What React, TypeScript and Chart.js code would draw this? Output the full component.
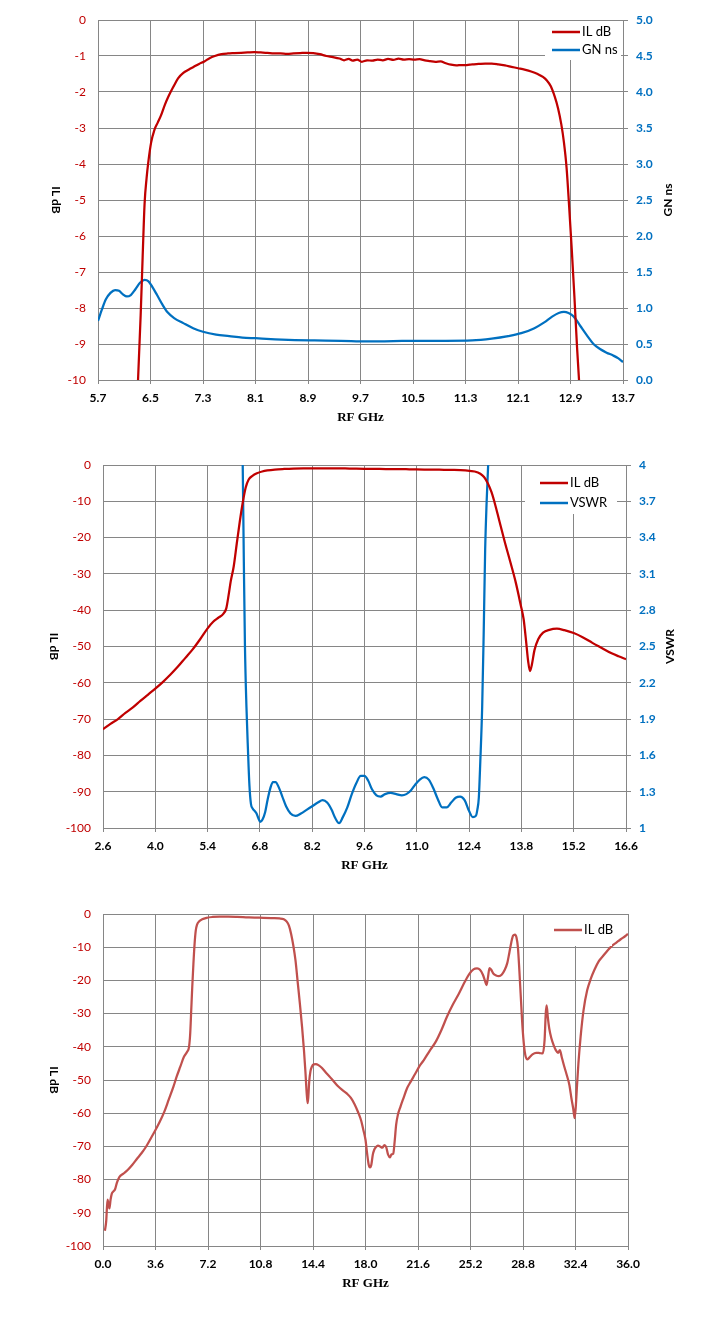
import { useEffect, useRef } from "react"
import { Chart, registerables } from "chart.js"

Chart.register(...registerables)

const RED = "#c00000"
const BLUE = "#0070c0"
const SOFT_RED = "#c0504d"
const GRID = "#868686"

// ---- chart 1: IL dB + group delay (GN ns), 5.7 .. 13.7 GHz
const xTicks1 = [5.7, 6.5, 7.3, 8.1, 8.9, 9.7, 10.5, 11.3, 12.1, 12.9, 13.7]
const ilTicks1 = [-10, -9, -8, -7, -6, -5, -4, -3, -2, -1, 0]
const gnTicks1 = [0, 0.5, 1, 1.5, 2, 2.5, 3, 3.5, 4, 4.5, 5]

const ilFreq1 = [
  6.27, 6.31, 6.35, 6.38, 6.41, 6.44, 6.47, 6.51, 6.56, 6.61, 6.66, 6.72, 6.78, 6.85, 6.92, 7.0, 7.08, 7.16,
  7.24, 7.32, 7.4, 7.48, 7.58, 7.68, 7.78, 7.88, 7.98, 8.08, 8.18, 8.28, 8.38, 8.48, 8.58, 8.68, 8.78, 8.88,
  8.98, 9.08, 9.18, 9.28, 9.38, 9.45, 9.52, 9.58, 9.65, 9.72, 9.8, 9.88, 9.96, 10.04, 10.12, 10.2, 10.28,
  10.36, 10.44, 10.52, 10.6, 10.68, 10.76, 10.84, 10.92, 11.0, 11.08, 11.16, 11.24, 11.32, 11.4, 11.5, 11.6,
  11.7, 11.8, 11.9, 12.0, 12.1, 12.2, 12.3, 12.4, 12.48, 12.54, 12.6, 12.66, 12.71, 12.76, 12.8, 12.84, 12.88,
  12.92, 12.96, 13.0, 13.04, 13.07,
]
const ilValues1 = [
  -11.5, -10.0, -8.2, -6.6, -5.1, -4.4, -3.9, -3.4, -3.05, -2.85, -2.65, -2.35, -2.1, -1.85, -1.62, -1.47,
  -1.38, -1.3, -1.22, -1.15, -1.06, -1.0, -0.95, -0.93, -0.92, -0.91, -0.9, -0.89, -0.9, -0.91, -0.93, -0.93,
  -0.94, -0.93, -0.92, -0.91, -0.92, -0.95, -1.0, -1.03, -1.07, -1.12, -1.08, -1.13, -1.1, -1.16, -1.12, -1.13,
  -1.1, -1.12, -1.08, -1.11, -1.07, -1.1, -1.09, -1.1, -1.09, -1.12, -1.14, -1.16, -1.15, -1.2, -1.24, -1.26,
  -1.25, -1.25, -1.23, -1.22, -1.21, -1.21, -1.23, -1.26, -1.3, -1.34, -1.38, -1.43, -1.5, -1.58, -1.68, -1.84,
  -2.13, -2.45, -2.9, -3.4, -4.1, -5.2, -6.4, -7.7, -9.1, -10.3, -11.2,
]

const gnFreq1 = [
  5.7, 5.76, 5.82, 5.89, 5.96, 6.02, 6.08, 6.14, 6.2, 6.27, 6.34, 6.41, 6.47, 6.53, 6.6, 6.68, 6.76, 6.86, 7.0,
  7.15, 7.3, 7.5, 7.7, 7.9, 8.1, 8.4, 8.7, 9.0, 9.4, 9.8, 10.2, 10.6, 11.0, 11.4, 11.7, 11.95, 12.15, 12.35,
  12.5, 12.62, 12.72, 12.8, 12.87, 12.95, 13.05, 13.15, 13.25, 13.35, 13.45, 13.55, 13.63, 13.7,
]
const gnValues1 = [
  0.82, 0.98, 1.12, 1.21, 1.25, 1.24, 1.19, 1.16, 1.18, 1.26, 1.35, 1.39, 1.37, 1.29, 1.18, 1.05, 0.94, 0.86,
  0.79, 0.72, 0.67, 0.63, 0.61, 0.59, 0.58, 0.565, 0.555, 0.55, 0.545, 0.535, 0.54, 0.545, 0.545, 0.55, 0.575,
  0.61, 0.65, 0.72, 0.8, 0.88, 0.93, 0.945, 0.93, 0.88, 0.75, 0.62, 0.5, 0.43, 0.38, 0.34, 0.3, 0.25,
]

// ---- chart 2: IL dB + VSWR, 2.6 .. 16.6 GHz
const xTicks2 = [2.6, 4.0, 5.4, 6.8, 8.2, 9.6, 11.0, 12.4, 13.8, 15.2, 16.6]
const ilTicks2 = [-100, -90, -80, -70, -60, -50, -40, -30, -20, -10, 0]
const vswrTicks2 = [1, 1.3, 1.6, 1.9, 2.2, 2.5, 2.8, 3.1, 3.4, 3.7, 4]

const ilFreq2 = [
  2.6, 2.8, 3.0, 3.2, 3.4, 3.6, 3.8, 4.0, 4.2, 4.4, 4.6, 4.8, 5.0, 5.2, 5.4, 5.55, 5.7, 5.82, 5.9, 5.96, 6.02,
  6.1, 6.18, 6.26, 6.34, 6.42, 6.5, 6.6, 6.72, 6.86, 7.0, 7.2, 7.45, 7.7, 8.0, 8.4, 8.8, 9.2, 9.6, 10.0, 10.4,
  10.8, 11.2, 11.6, 12.0, 12.3, 12.55, 12.7, 12.8, 12.9, 13.0, 13.1, 13.2, 13.35, 13.5, 13.65, 13.78, 13.86,
  13.93, 13.98, 14.03, 14.08, 14.15, 14.25, 14.38, 14.55, 14.75, 14.95, 15.2, 15.45, 15.7, 15.95, 16.2, 16.4,
  16.6,
]
const ilValues2 = [
  -72.8, -71.3, -70.0, -68.3, -66.8, -65.0, -63.3, -61.6, -59.8, -57.8, -55.6, -53.2, -50.8, -48.0, -45.0,
  -43.2, -42.0, -41.0, -39.5, -36.0, -32.0, -27.9, -21.7, -15.7, -10.4, -6.2, -4.0, -3.0, -2.3, -1.8, -1.5,
  -1.25, -1.1, -1.0, -0.95, -0.92, -0.92, -0.98, -1.05, -1.1, -1.12, -1.18, -1.25, -1.3, -1.35, -1.5, -1.8,
  -2.4, -3.3, -5.0, -7.5, -11.0, -15.0, -21.0, -26.6, -32.4, -38.5, -42.5, -49.0, -54.0, -56.8, -55.0, -51.0,
  -48.0, -46.2, -45.4, -45.1, -45.5, -46.3, -47.5, -49.0, -50.4, -51.8, -52.7, -53.5,
]

const vswrFreq2 = [
  6.3, 6.34, 6.37, 6.4, 6.44, 6.48, 6.52, 6.56, 6.61, 6.66, 6.71, 6.76, 6.81, 6.87, 6.94, 7.01, 7.08, 7.15,
  7.22, 7.3, 7.4, 7.5, 7.62, 7.75, 7.9, 8.05, 8.2, 8.35, 8.48, 8.6, 8.72, 8.82, 8.92, 9.02, 9.14, 9.26, 9.38,
  9.5, 9.6, 9.7, 9.8, 9.92, 10.03, 10.15, 10.3, 10.45, 10.6, 10.72, 10.84, 10.96, 11.08, 11.2, 11.32, 11.44,
  11.56, 11.68, 11.8, 11.92, 12.04, 12.16, 12.28, 12.4, 12.5, 12.58, 12.62, 12.66, 12.7, 12.75, 12.79, 12.83,
  12.87, 12.91, 12.95,
]
const vswrValues2 = [
  4.7, 4.0, 3.2, 2.5, 2.0, 1.65, 1.35, 1.2, 1.16, 1.14, 1.12, 1.08, 1.05, 1.07, 1.13, 1.24, 1.33, 1.38, 1.38,
  1.34, 1.26, 1.18, 1.12, 1.1, 1.12, 1.15, 1.18, 1.21, 1.23, 1.21, 1.15, 1.08, 1.04, 1.09, 1.17, 1.28, 1.37,
  1.43, 1.43, 1.39, 1.32, 1.27, 1.26, 1.28, 1.29, 1.28, 1.27, 1.28, 1.31, 1.36, 1.4, 1.42, 1.4, 1.33, 1.24,
  1.17, 1.17, 1.21, 1.25, 1.26, 1.23, 1.14, 1.09, 1.1, 1.15, 1.25, 1.55, 2.0, 2.6, 3.3, 3.7, 4.0, 4.4,
]

// ---- chart 3: wideband IL dB, 0 .. 36 GHz
const xTicks3 = [0, 3.6, 7.2, 10.8, 14.4, 18.0, 21.6, 25.2, 28.8, 32.4, 36.0]
const ilTicks3 = [-100, -90, -80, -70, -60, -50, -40, -30, -20, -10, 0]

const ilFreq3 = [
  0.13, 0.22, 0.31, 0.38, 0.44, 0.52, 0.6, 0.7, 0.82, 0.95, 1.13, 1.4, 1.69, 2.0, 2.32, 2.65, 2.95, 3.25, 3.58,
  3.9, 4.2, 4.5, 4.83, 5.05, 5.3, 5.55, 5.77, 5.9, 5.98, 6.05, 6.12, 6.2, 6.28, 6.36, 6.45, 6.6, 6.8, 7.1, 7.5,
  8.0, 8.6, 9.2, 9.8, 10.4, 11.0, 11.6, 12.1, 12.4, 12.6, 12.75, 12.9, 13.05, 13.2, 13.35, 13.5, 13.65, 13.78,
  13.88, 13.96, 14.03, 14.08, 14.14, 14.22, 14.32, 14.45, 14.6, 14.8, 15.0, 15.25, 15.5, 15.8, 16.1, 16.4,
  16.75, 17.0, 17.25, 17.5, 17.7, 17.85, 18.0, 18.12, 18.22, 18.31, 18.4, 18.5, 18.6, 18.72, 18.85, 19.0,
  19.15, 19.3, 19.42, 19.55, 19.68, 19.78, 19.9, 20.0, 20.1, 20.22, 20.4, 20.6, 20.85, 21.1, 21.4, 21.7, 22.0,
  22.4, 22.8, 23.2, 23.6, 24.0, 24.4, 24.8, 25.1, 25.4, 25.65, 25.85, 26.05, 26.2, 26.3, 26.4, 26.5, 26.62,
  26.78, 26.95, 27.15, 27.35, 27.55, 27.72, 27.87, 28.0, 28.12, 28.25, 28.35, 28.45, 28.55, 28.65, 28.78,
  28.92, 29.08, 29.25, 29.45, 29.7, 29.95, 30.15, 30.28, 30.36, 30.42, 30.5, 30.6, 30.75, 30.9, 31.05, 31.2,
  31.33, 31.45, 31.6, 31.8, 31.98, 32.12, 32.24, 32.34, 32.42, 32.5, 32.6, 32.75, 32.95, 33.2, 33.45, 33.7,
  34.0, 34.3, 34.6, 34.9, 35.2, 35.5, 35.8, 36.0,
]
const ilValues3 = [
  -95.4, -92.5, -86.0, -87.5, -88.7, -86.0, -84.3, -83.6, -83.0, -81.0, -79.2, -78.2, -77.1, -75.6, -73.8,
  -72.0, -70.1, -67.8, -65.2, -62.5, -59.6, -56.0, -52.0, -49.0, -46.0, -43.0, -41.5, -40.0, -36.0, -29.0,
  -22.0, -15.0, -9.0, -5.0, -3.2, -2.2, -1.6, -1.15, -0.9, -0.8, -0.82, -0.9, -1.0, -1.1, -1.15, -1.25, -1.35,
  -1.6, -2.3, -3.5, -6.0, -9.5, -14.0, -20.5, -27.0, -34.0, -41.0, -47.5, -53.5, -57.0, -55.0, -50.5, -47.5,
  -46.0, -45.3, -45.2, -45.6, -46.3, -47.6, -48.8, -50.3, -51.8, -53.0, -54.2, -55.4, -57.3, -59.8, -62.2,
  -65.0, -68.0, -72.5, -75.5, -76.3, -75.5, -72.5, -71.0, -70.2, -69.8, -70.0, -70.4, -69.6, -70.2, -72.5,
  -73.3, -72.4, -72.2, -68.5, -63.5, -60.5, -58.0, -55.5, -52.5, -50.5, -48.2, -45.8, -44.0, -41.2, -38.6,
  -35.0, -30.8, -27.2, -24.0, -20.5, -18.2, -16.7, -16.4, -16.8, -18.3, -20.2, -21.4, -19.0, -16.3, -16.8,
  -18.0, -18.5, -18.7, -18.2, -16.8, -14.8, -11.5, -8.5, -6.5, -6.2, -7.0, -10.0, -17.0, -25.0, -35.0, -41.5,
  -43.8, -43.2, -42.3, -41.8, -41.9, -42.0, -38.0, -30.0, -27.5, -31.0, -34.5, -37.5, -39.5, -41.0, -41.8,
  -41.0, -43.0, -45.5, -48.5, -51.5, -55.5, -58.5, -61.5, -58.0, -52.0, -45.0, -37.0, -29.0, -23.0, -19.5,
  -16.8, -14.2, -12.6, -11.0, -9.6, -8.6, -7.6, -6.7, -6.0,
]

type Series = {
  label: string
  freq: number[]
  values: number[]
  color: string
  axis: "y" | "y2"
}

type PlotSpec = {
  top: number
  height: number
  left: number
  right: number
  xTicks: number[]
  yTicks: number[]
  y2Ticks?: number[]
  y2Format?: (v: number) => string
  yTitle: string
  yTitleX: number
  y2Title?: string
  y2TitleX?: number
  series: Series[]
  legend: { x: number; y: number; w: number; h: number; lineX: number; rows: number[] }
}

const WIDTH = 718

function Plot({ spec }: { spec: PlotSpec }) {
  const chartRef = useRef<HTMLCanvasElement>(null)

  useEffect(() => {
    if (!chartRef.current) return

    const fixTicks = (values: number[]) => (scale: any) => {
      scale.ticks = values.map((value) => ({ value }))
    }
    const tickFont = { family: "Lato", size: 12 }

    const scales: any = {
      x: {
        type: "linear",
        min: spec.xTicks[0],
        max: spec.xTicks[spec.xTicks.length - 1],
        afterBuildTicks: fixTicks(spec.xTicks),
        afterFit: (s: any) => {
          s.height = 60
        },
        grid: { color: GRID, tickLength: 4 },
        border: { color: GRID },
        ticks: {
          color: "#000",
          font: { ...tickFont, weight: "bold" },
          padding: 7,
          maxRotation: 0,
          autoSkip: false,
          callback: (v: any) => Number(v).toFixed(1),
        },
        title: {
          display: true,
          text: "RF GHz",
          color: "#000",
          font: { family: "Liberation Serif", size: 13, weight: "bold" },
          padding: { top: 0, bottom: 15 },
        },
      },
      y: {
        type: "linear",
        position: "left",
        min: spec.yTicks[0],
        max: spec.yTicks[spec.yTicks.length - 1],
        afterBuildTicks: fixTicks(spec.yTicks),
        afterFit: (s: any) => {
          s.width = spec.left
        },
        grid: { color: GRID, drawTicks: false },
        border: { color: GRID },
        ticks: { color: RED, font: tickFont, padding: 12, callback: (v: any) => String(v) },
      },
    }

    if (spec.y2Ticks) {
      scales.y2 = {
        type: "linear",
        position: "right",
        min: spec.y2Ticks[0],
        max: spec.y2Ticks[spec.y2Ticks.length - 1],
        afterBuildTicks: fixTicks(spec.y2Ticks),
        afterFit: (s: any) => {
          s.width = WIDTH - spec.right
        },
        grid: { color: GRID, drawOnChartArea: false, tickLength: 5 },
        border: { color: GRID },
        ticks: {
          color: BLUE,
          font: { ...tickFont, weight: "bold" },
          padding: 8,
          callback: (v: any) => (spec.y2Format ? spec.y2Format(Number(v)) : String(v)),
        },
      }
    }

    // legend box inside the plot + the rotated side titles
    const decorations = {
      id: "decorations",
      afterDraw(chart: Chart) {
        const { ctx, chartArea } = chart
        const mid = (chartArea.top + chartArea.bottom) / 2
        const lg = spec.legend

        ctx.save()
        ctx.fillStyle = "#fff"
        ctx.fillRect(lg.x, lg.y, lg.w, lg.h)
        ctx.font = "13px Lato"
        ctx.textBaseline = "middle"
        ctx.textAlign = "left"
        spec.series.forEach((s, i) => {
          const y = lg.rows[i]
          ctx.strokeStyle = s.color
          ctx.lineWidth = 2.5
          ctx.beginPath()
          ctx.moveTo(lg.lineX, y)
          ctx.lineTo(lg.lineX + 28, y)
          ctx.stroke()
          ctx.fillStyle = "#000"
          ctx.fillText(s.label, lg.lineX + 30, y)
        })
        ctx.restore()

        ctx.save()
        ctx.font = "bold 12px Lato"
        ctx.textAlign = "center"
        ctx.textBaseline = "middle"
        ctx.fillStyle = "#000"
        ctx.translate(spec.yTitleX, mid)
        ctx.rotate(Math.PI / 2)
        ctx.fillText(spec.yTitle, 0, 0)
        ctx.restore()

        if (spec.y2Title && spec.y2TitleX) {
          ctx.save()
          ctx.font = "bold 12px Lato"
          ctx.textAlign = "center"
          ctx.textBaseline = "middle"
          ctx.fillStyle = "#000"
          ctx.translate(spec.y2TitleX, mid)
          ctx.rotate(-Math.PI / 2)
          ctx.fillText(spec.y2Title, 0, 0)
          ctx.restore()
        }
      },
    }

    const chart = new Chart(chartRef.current, {
      type: "line",
      data: {
        datasets: spec.series.map((s) => ({
          label: s.label,
          data: s.freq.map((f, i) => ({ x: f, y: s.values[i] })),
          borderColor: s.color,
          backgroundColor: s.color,
          borderWidth: 2.25,
          pointRadius: 0,
          cubicInterpolationMode: "monotone" as const,
          yAxisID: s.axis,
        })),
      },
      options: {
        responsive: false,
        animation: false,
        layout: {
          padding: { top: 20, left: 0, bottom: 0, right: spec.y2Ticks ? 0 : WIDTH - spec.right },
        },
        scales,
        plugins: {
          legend: { display: false },
          tooltip: { enabled: false },
        },
      },
      plugins: [decorations],
    })

    return () => {
      chart.destroy()
    }
  }, [spec])

  return (
    <canvas
      ref={chartRef}
      width={WIDTH}
      height={spec.height}
      style={{ position: "absolute", left: 0, top: spec.top }}
    />
  )
}

const specs: PlotSpec[] = [
  {
    top: 0,
    height: 440,
    left: 98,
    right: 623,
    xTicks: xTicks1,
    yTicks: ilTicks1,
    y2Ticks: gnTicks1,
    y2Format: (v) => v.toFixed(1),
    yTitle: "IL dB",
    yTitleX: 56,
    y2Title: "GN ns",
    y2TitleX: 668,
    series: [
      { label: "IL dB", freq: ilFreq1, values: ilValues1, color: RED, axis: "y" },
      { label: "GN ns", freq: gnFreq1, values: gnValues1, color: BLUE, axis: "y2" },
    ],
    legend: { x: 545, y: 21, w: 76, h: 39, lineX: 552, rows: [32, 50] },
  },
  {
    top: 445,
    height: 443,
    left: 103,
    right: 626,
    xTicks: xTicks2,
    yTicks: ilTicks2,
    y2Ticks: vswrTicks2,
    y2Format: (v) => String(Number(v.toFixed(1))),
    yTitle: "IL dB",
    yTitleX: 54,
    y2Title: "VSWR",
    y2TitleX: 670,
    series: [
      { label: "IL dB", freq: ilFreq2, values: ilValues2, color: RED, axis: "y" },
      { label: "VSWR", freq: vswrFreq2, values: vswrValues2, color: BLUE, axis: "y2" },
    ],
    legend: { x: 525, y: 21, w: 92, h: 48, lineX: 540, rows: [38, 58] },
  },
  {
    top: 894,
    height: 412,
    left: 103,
    right: 628,
    xTicks: xTicks3,
    yTicks: ilTicks3,
    yTitle: "IL dB",
    yTitleX: 54,
    series: [{ label: "IL dB", freq: ilFreq3, values: ilValues3, color: SOFT_RED, axis: "y" }],
    legend: { x: 548, y: 21, w: 64, h: 31, lineX: 554, rows: [36] },
  },
]

export default function App() {
  return (
    <div style={{ position: "absolute", left: 0, top: 0, width: WIDTH, height: 1332, background: "#fff" }}>
      {specs.map((spec, i) => (
        <Plot key={i} spec={spec} />
      ))}
    </div>
  )
}
